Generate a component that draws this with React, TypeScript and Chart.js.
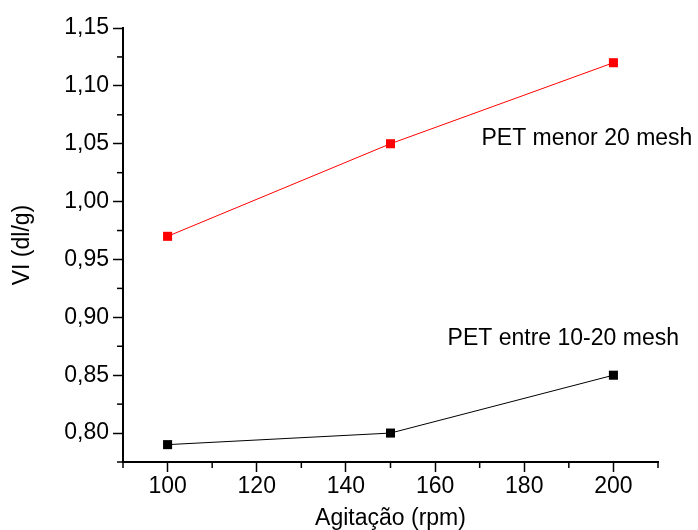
import React, { useEffect, useRef } from "react";
import { Chart, registerables } from "chart.js";

Chart.register(...registerables);

// ---- data ----
const agitationRpm = [100, 150, 200];
const viMenor20Mesh = [0.97, 1.05, 1.12];
const viEntre10e20Mesh = [0.79, 0.8, 0.85];

const seriesLabels = ["PET menor 20 mesh", "PET entre 10-20 mesh"];
const xAxisTitle = "Agitação (rpm)";
const yAxisTitle = "VI (dl/g)";

// annotation anchors (data coordinates)
const labelAnchors = [
  { x: 170.4, y: 1.054 },
  { x: 162.8, y: 0.882 },
];

const FONT_FAMILY = "'Liberation Sans', Arial, sans-serif";
const FONT_SIZE = 23;

const isMajorX = (v: number) => Math.round(v) % 20 === 0;
const isMajorY = (v: number) => Math.round(v * 1000) % 50 === 0;

const minorTicksPlugin = {
  id: "minorTicks",
  afterDraw(chart: any) {
    const ctx = chart.ctx;
    const xs = chart.scales.x;
    const ys = chart.scales.y;
    ctx.save();
    ctx.strokeStyle = "#000";
    ctx.lineWidth = 1.5;
    const len = 6;
    xs.ticks.forEach((t: any) => {
      if (isMajorX(t.value)) return;
      const px = xs.getPixelForValue(t.value);
      ctx.beginPath();
      ctx.moveTo(px, chart.chartArea.bottom);
      ctx.lineTo(px, chart.chartArea.bottom + len);
      ctx.stroke();
    });
    ys.ticks.forEach((t: any) => {
      if (isMajorY(t.value)) return;
      const py = ys.getPixelForValue(t.value);
      ctx.beginPath();
      ctx.moveTo(chart.chartArea.left, py);
      ctx.lineTo(chart.chartArea.left - len, py);
      ctx.stroke();
    });
    ctx.restore();
  },
};

const seriesLabelPlugin = {
  id: "seriesLabels",
  afterDraw(chart: any) {
    const ctx = chart.ctx;
    const xs = chart.scales.x;
    const ys = chart.scales.y;
    ctx.save();
    ctx.fillStyle = "#000";
    ctx.font = `${FONT_SIZE}px ${FONT_FAMILY}`;
    ctx.textAlign = "left";
    ctx.textBaseline = "middle";
    seriesLabels.forEach((txt, i) => {
      const a = labelAnchors[i];
      ctx.fillText(txt, xs.getPixelForValue(a.x), ys.getPixelForValue(a.y));
    });
    ctx.restore();
  },
};

export default function App() {
  const canvasRef = useRef<HTMLCanvasElement | null>(null);

  useEffect(() => {
    if (!canvasRef.current) return;
    const font = { family: FONT_FAMILY, size: FONT_SIZE };
    const chart = new Chart(canvasRef.current, {
      type: "line",
      data: {
        datasets: [
          {
            label: seriesLabels[0],
            data: agitationRpm.map((x, i) => ({ x, y: viMenor20Mesh[i] })),
            borderColor: "#ff0000",
            backgroundColor: "#ff0000",
            borderWidth: 1,
            pointStyle: "rect",
            pointRadius: 6.4,
            pointBorderWidth: 0,
            tension: 0,
          },
          {
            label: seriesLabels[1],
            data: agitationRpm.map((x, i) => ({ x, y: viEntre10e20Mesh[i] })),
            borderColor: "#000000",
            backgroundColor: "#000000",
            borderWidth: 1,
            pointStyle: "rect",
            pointRadius: 6.4,
            pointBorderWidth: 0,
            tension: 0,
          },
        ],
      },
      options: {
        animation: false,
        responsive: false,
        devicePixelRatio: 1,
        layout: { padding: { top: 28, right: 40, left: 0, bottom: 0 } },
        plugins: {
          legend: { display: false },
          tooltip: { enabled: false },
        },
        scales: {
          x: {
            type: "linear",
            min: 90,
            max: 210,
            ticks: {
              stepSize: 10,
              autoSkip: false,
              maxRotation: 0,
              padding: 1,
              color: "#000",
              font,
              callback: (v: any) => (isMajorX(Number(v)) ? String(v) : ""),
            },
            grid: {
              drawOnChartArea: false,
              drawTicks: true,
              tickLength: 10,
              tickWidth: 1.5,
              tickColor: (c: any) =>
                c.tick && isMajorX(c.tick.value) ? "#000" : "rgba(0,0,0,0)",
            },
            border: { display: true, color: "#000", width: 2 },
            title: {
              display: true,
              text: xAxisTitle,
              color: "#000",
              font,
              padding: { top: 0, bottom: -2 },
            },
            afterFit: (s: any) => {
              s.height = 68;
            },
          },
          y: {
            type: "linear",
            min: 0.775,
            max: 1.15,
            ticks: {
              stepSize: 0.025,
              autoSkip: false,
              padding: 4,
              color: "#000",
              font,
              callback: (v: any) =>
                isMajorY(Number(v)) ? Number(v).toFixed(2).replace(".", ",") : "",
            },
            grid: {
              drawOnChartArea: false,
              drawTicks: true,
              tickLength: 10,
              tickWidth: 1.5,
              tickColor: (c: any) =>
                c.tick && isMajorY(c.tick.value) ? "#000" : "rgba(0,0,0,0)",
            },
            border: { display: true, color: "#000", width: 2 },
            title: {
              display: true,
              text: yAxisTitle,
              color: "#000",
              font,
              padding: { top: 9, bottom: 0 },
            },
            afterFit: (s: any) => {
              s.width = 123;
            },
          },
        },
      },
      plugins: [minorTicksPlugin, seriesLabelPlugin],
    } as any);
    return () => chart.destroy();
  }, []);

  return (
    <div style={{ position: "absolute", left: 0, top: 0, width: 698, height: 530, background: "#fff" }}>
      <canvas ref={canvasRef} width={698} height={530} style={{ width: 698, height: 530 }} />
    </div>
  );
}
